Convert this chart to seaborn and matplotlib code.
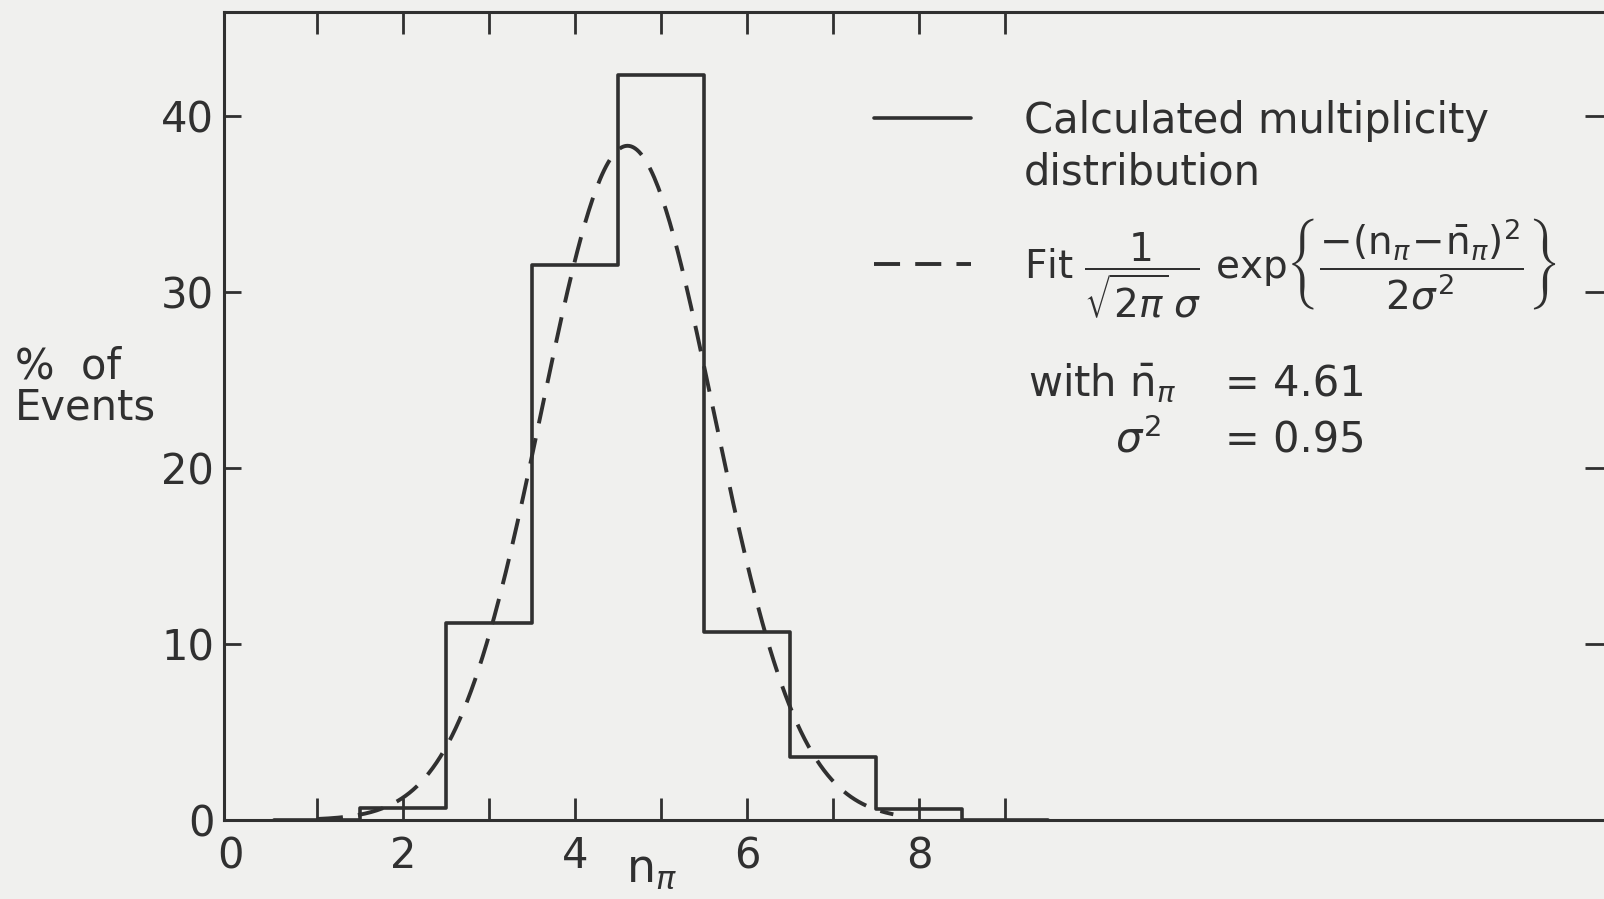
import numpy as np
import pandas as pd
import matplotlib
matplotlib.use("Agg")
import matplotlib.pyplot as plt
import seaborn as sns

# ---------------- data ----------------
n_pi = [1, 2, 3, 4, 5, 6, 7, 8, 9]
pct_events = [0.0, 0.7, 11.2, 31.5, 42.3, 10.7, 3.6, 0.6, 0.0]

# fit parameters printed on the chart
fit_mean = 4.61
fit_sigma2 = 0.95
# dashed curve as drawn (peak height and width)
curve_peak = 38.3
curve_sigma = 1.0
curve_start, curve_end = 1.0, 7.7

x_ticks = [0, 1, 2, 3, 4, 5, 6, 7, 8, 9]
x_tick_labels = ["0", "", "2", "", "4", "", "6", "", "8", ""]
y_ticks = [0, 10, 20, 30, 40]
y_tick_labels = ["0", "10", "20", "30", "40"]

legend_labels = [
    "Calculated multiplicity",
    r"Fit $\dfrac{1}{\sqrt{2\pi}\,\sigma}$ exp$\left\{\dfrac{-(\mathrm{n}_{\pi}\!-\!\bar{\mathrm{n}}_{\pi})^{2}}{2\sigma^{2}}\right\}$",
]
legend_extra = "distribution"
y_label = "%  of\nEvents"
x_label = r"$\mathrm{n}_{\pi}$"

# ---------------- style ----------------
BG = "#f0f0ee"
INK = "#303030"
FS = 30

sns.set_theme(style="white")
plt.rcParams["font.family"] = ["DejaVu Sans"]
plt.rcParams["mathtext.fontset"] = "dejavusans"
plt.rcParams["text.color"] = INK
plt.rcParams["axes.labelcolor"] = INK

fig = plt.figure(figsize=(16.04, 8.99), dpi=100, facecolor=BG)
ax = fig.add_axes([224 / 1604, 79 / 899, 1386 / 1604, 808 / 899])
ax.set_facecolor(BG)

df = pd.DataFrame({"n_pi": n_pi, "pct": pct_events})
sns.histplot(data=df, x="n_pi", weights="pct", discrete=True, element="step",
             fill=False, color=INK, linewidth=2.6, ax=ax)
hist_line = ax.lines[-1]

xs = np.linspace(curve_start, curve_end, 300)
ys = curve_peak * np.exp(-(xs - fit_mean) ** 2 / (2 * curve_sigma ** 2))
sns.lineplot(x=xs, y=ys, ax=ax, color=INK, linewidth=2.8)
curve = ax.lines[-1]
curve.set_dashes([6.7, 3.9])

ax.set_xlim(-0.08, 16.03)
ax.set_ylim(0, 45.9)

for s in ax.spines.values():
    s.set_visible(True)
    s.set_color(INK)
    s.set_linewidth(2.2)

ax.set_xticks(x_ticks, x_tick_labels)
ax.set_yticks(y_ticks, y_tick_labels)
ax.tick_params(axis="x", direction="in", length=16, width=2, top=True, bottom=True,
               labelsize=FS, pad=11, color=INK, labelcolor=INK)
ax.tick_params(axis="y", direction="in", length=12, width=2, left=True, right=True,
               labelsize=FS, pad=7, color=INK, labelcolor=INK)
xt = ax.xaxis.get_major_ticks()
xt[0].tick1line.set_visible(False)
xt[0].tick2line.set_visible(False)
for t in ax.yaxis.get_major_ticks():
    t.tick2line.set_markersize(18)

ax.set_ylabel(y_label, rotation=0, ha="left", va="center", fontsize=FS,
              linespacing=0.95, multialignment="left")
ax.yaxis.set_label_coords(-0.1508, 0.536)
ax.set_xlabel(x_label, fontsize=33, ha="left", va="baseline")
ax.xaxis.set_label_coords(0.290, -0.0767)

leg = ax.legend(handles=[hist_line, curve], labels=legend_labels,
                loc="upper left", bbox_to_anchor=(7.47, 40.92),
                bbox_transform=ax.transData, frameon=False, fontsize=FS,
                handlelength=2.33, handletextpad=1.27, labelspacing=1.80,
                borderpad=0, borderaxespad=0)
leg.get_texts()[1].set_fontsize(28)

ax.text(9.21, 36.12, legend_extra, ha="left", va="baseline", fontsize=FS)
ax.text(9.27, 24.08, r"with $\bar{\mathrm{n}}_{\pi}$", ha="left", va="baseline", fontsize=FS)
ax.text(11.56, 24.08, "= " + f"{fit_mean:.2f}", ha="left", va="baseline", fontsize=FS)
ax.text(10.28, 20.9, r"$\sigma^{2}$", ha="left", va="baseline", fontsize=FS)
ax.text(11.56, 20.9, "= " + f"{fit_sigma2:.2f}", ha="left", va="baseline", fontsize=FS)

fig.savefig("out.png", dpi=100, facecolor=BG)
